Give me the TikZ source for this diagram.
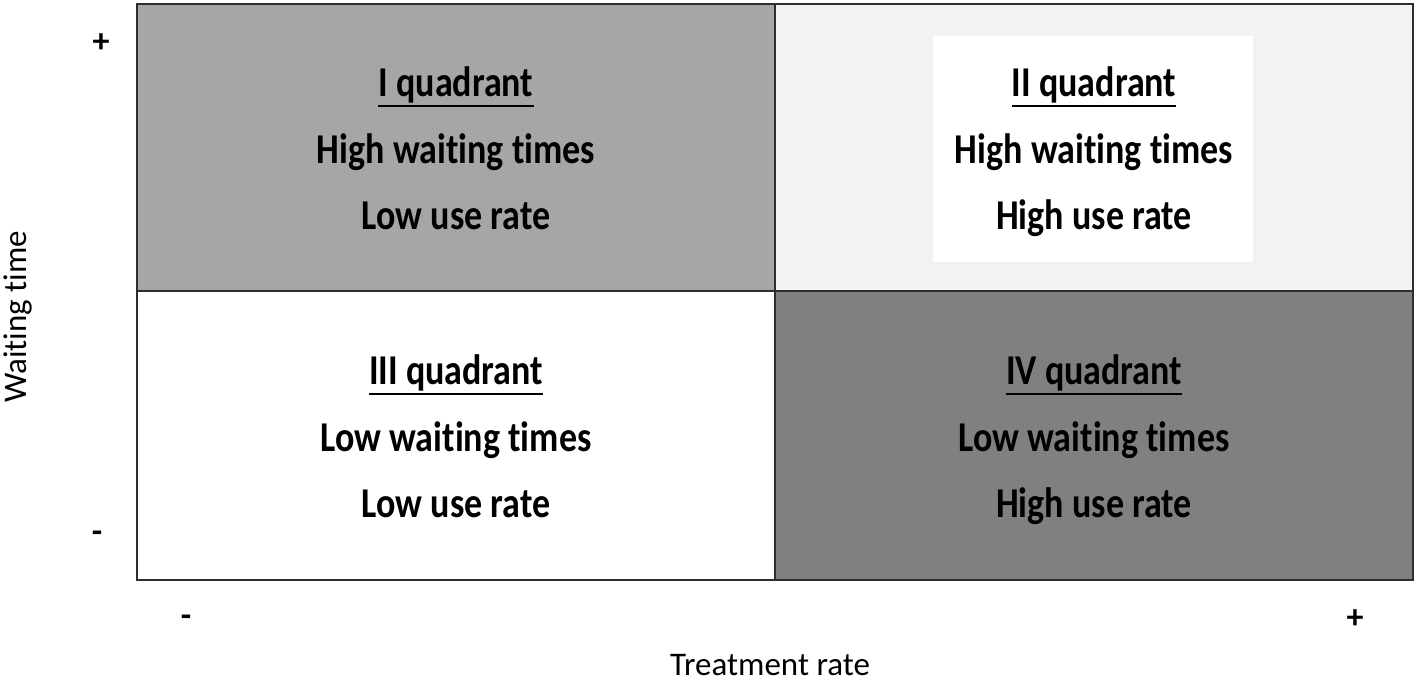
\documentclass[tikz,border=0pt]{standalone}
\usepackage{fontspec}
\setmainfont{Carlito}[Ligatures=NoCommon]
\definecolor{qone}{HTML}{A6A6A6}
\definecolor{qtwo}{HTML}{F2F2F2}
\definecolor{qfour}{HTML}{808080}
\definecolor{edge}{HTML}{2E2E2E}
\newcommand{\tallq}[1]{\scalebox{1}[1.18]{#1}}
\begin{document}
\begin{tikzpicture}[x=1pt,y=-1pt,
  border/.style={draw=edge, line width=2.7pt},
  qtext/.style={font=\fontsize{36}{36}\selectfont\bfseries, inner sep=0pt, anchor=base},
  axlabel/.style={font=\fontsize{33}{33}\selectfont, inner sep=0pt},
  sign/.style={font=\fontsize{34}{34}\selectfont\bfseries, inner sep=0pt, anchor=center},
  uline/.style={line width=2.5pt, draw=black}]
\useasboundingbox (0,0) rectangle (1418,681);
% quadrant fills
\fill[qone] (137,4) rectangle (775,291);
\fill[qtwo] (775,4) rectangle (1413,291);
\fill[white] (933,36) rectangle (1253,262);
\fill[white] (137,291) rectangle (775,580);
\fill[qfour] (775,291) rectangle (1413,580);
% grid
\draw[border] (137,4) rectangle (1413,580);
\draw[border] (775,4) -- (775,580);
\draw[border] (137,291) -- (1413,291);
% quadrant I
\node[qtext] (t1) at (456,96) {\tallq{I quadrant}};
\node[qtext] (a1) at (456,163) {\tallq{High waiting times}};
\node[qtext] (b1) at (456,229) {\tallq{Low use rate}};
% quadrant II
\node[qtext] (t2) at (1094,96) {\tallq{II quadrant}};
\node[qtext] (a2) at (1094,163) {\tallq{High waiting times}};
\node[qtext] (b2) at (1094,229) {\tallq{High use rate}};
% quadrant III
\node[qtext] (t3) at (456,384) {\tallq{III quadrant}};
\node[qtext] (a3) at (456,451) {\tallq{Low waiting times}};
\node[qtext] (b3) at (456,517) {\tallq{Low use rate}};
% quadrant IV
\node[qtext] (t4) at (1094,384) {\tallq{IV quadrant}};
\node[qtext] (a4) at (1094,451) {\tallq{Low waiting times}};
\node[qtext] (b4) at (1094,517) {\tallq{High use rate}};
% underlines
\foreach \t in {t1,t2,t3,t4}
  \draw[uline] ([yshift=-10pt]\t.base west) -- ([yshift=-10pt]\t.base east);
% axis labels
\node[axlabel, anchor=base] (xl) at (770,675) {Treatment rate};
\node[axlabel, anchor=base, rotate=90] (yl) at (27,317) {Waiting time};
% signs
\node[sign] (yp) at (101,43) {+};
\node[sign] (ym) at (97,537) {-};
\node[sign] (xm) at (186,621) {-};
\node[sign] (xp) at (1355,619) {+};
\end{tikzpicture}
\end{document}
